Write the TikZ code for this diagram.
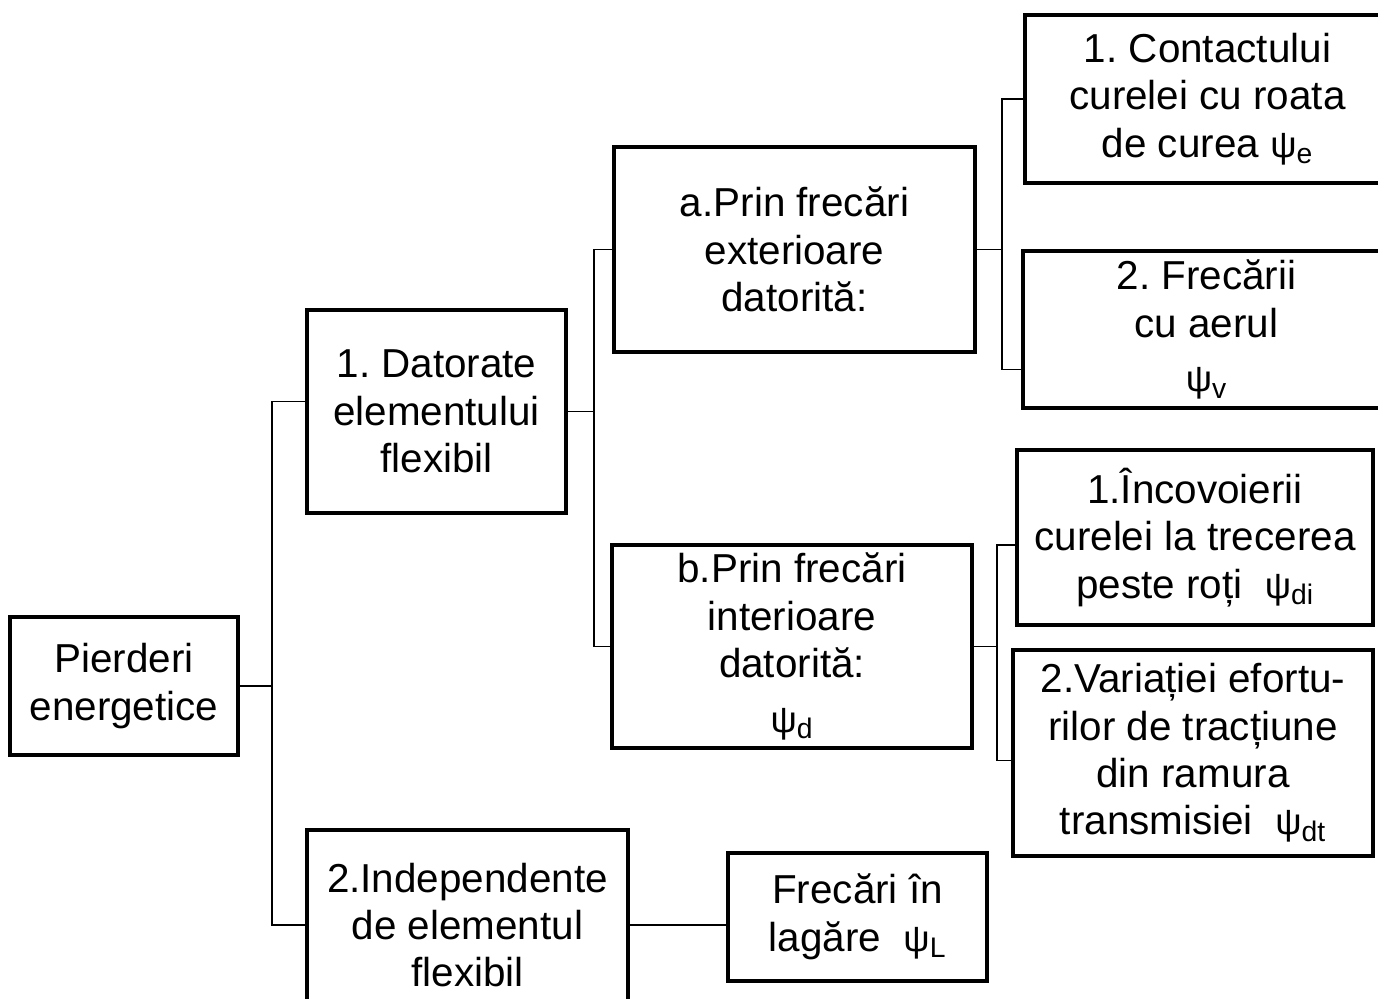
\documentclass[tikz,border=0pt]{standalone}
\usepackage{fontspec}
\setmainfont{Liberation Sans}
\usepackage{tikz}
\frenchspacing

\newcommand{\psiw}[1]{{\fontsize{21}{27}\selectfont ψ}\textsubscript{#1}}

\begin{document}
\begin{tikzpicture}[x=0.02cm, y=-0.02cm,
  box/.style={draw, line width=2.4pt, align=center, inner sep=0pt,
    font=\fontsize{23}{27}\selectfont},
  link/.style={line width=1.1pt}]

\useasboundingbox (0,0) rectangle (1378,999);
\clip (0,0) rectangle (1378,999);

% boxes, placed at their centres
\path
(124,686) node [box, minimum width=4.56cm, minimum height=2.76cm] (pierderi)
  {Pierderi\\energetice}
(436.5,411.5) node [box, minimum width=5.18cm, minimum height=4.06cm] (datorate)
  {1. Datorate\\elementului\\flexibil}
(467.5,925) node [box, minimum width=6.42cm, minimum height=3.8cm] (independente)
  {2.Independente\\de elementul\\flexibil}
(794.5,249.5) node [box, minimum width=7.22cm, minimum height=4.1cm] (exterioare)
  {a.Prin frecări\\exterioare\\datorită:}
(792,646.5) node [box, minimum width=7.2cm, minimum height=4.06cm] (interioare)
  {b.Prin frecări\\interioare\\datorită:\\[4pt]\psiw{d}}
(857.5,917) node [box, minimum width=5.18cm, minimum height=2.56cm] (lagare)
  {Frecări în\\lagăre\ \ \psiw{L}}
(1207.5,99) node [box, minimum width=7.3cm, minimum height=3.36cm] (contactul)
  {1. Contactului\\curelei cu roata\\de curea \psiw{e}}
(1206.5,329.5) node [box, minimum width=7.34cm, minimum height=3.14cm] (aerul)
  {2. Frecării\\cu aerul\\[4pt]\psiw{v}}
(1195,537.5) node [box, minimum width=7.12cm, minimum height=3.5cm] (incovoiere)
  {1.Încovoierii\\curelei la trecerea\\peste roți\ \ \psiw{di}}
(1193,753) node [box, minimum width=7.2cm, minimum height=4.12cm] (variatie)
  {2.Variației efortu-\\rilor de tracțiune\\din ramura\\transmisiei\ \ \psiw{dt}};

% forks of the tree
\coordinate (fork1) at ([xshift=0.64cm]pierderi.east);
\coordinate (fork2) at ([xshift=0.52cm]datorate.east);
\coordinate (fork3) at ([xshift=0.5cm]exterioare.east);
\coordinate (fork4) at ([xshift=0.46cm]interioare.east);

\draw[link] (pierderi.east) -- (fork1);
\draw[link] ([yshift=0.2cm]datorate.west) -| (fork1) |- (independente.west);

\draw[link] (datorate.east) -- (fork2);
\draw[link] (exterioare.west) -| (fork2) |- (interioare.west);

\draw[link] (exterioare.east) -- (fork3);
\draw[link] (contactul.west) -| (fork3) |- ([yshift=-0.8cm]aerul.west);

\draw[link] (interioare.east) -- (fork4);
\draw[link] ([yshift=-0.15cm]incovoiere.west) -| (fork4) |- ([yshift=-0.15cm]variatie.west);

\draw[link] (independente.east) -- (independente.east -| lagare.west);

\end{tikzpicture}
\end{document}
